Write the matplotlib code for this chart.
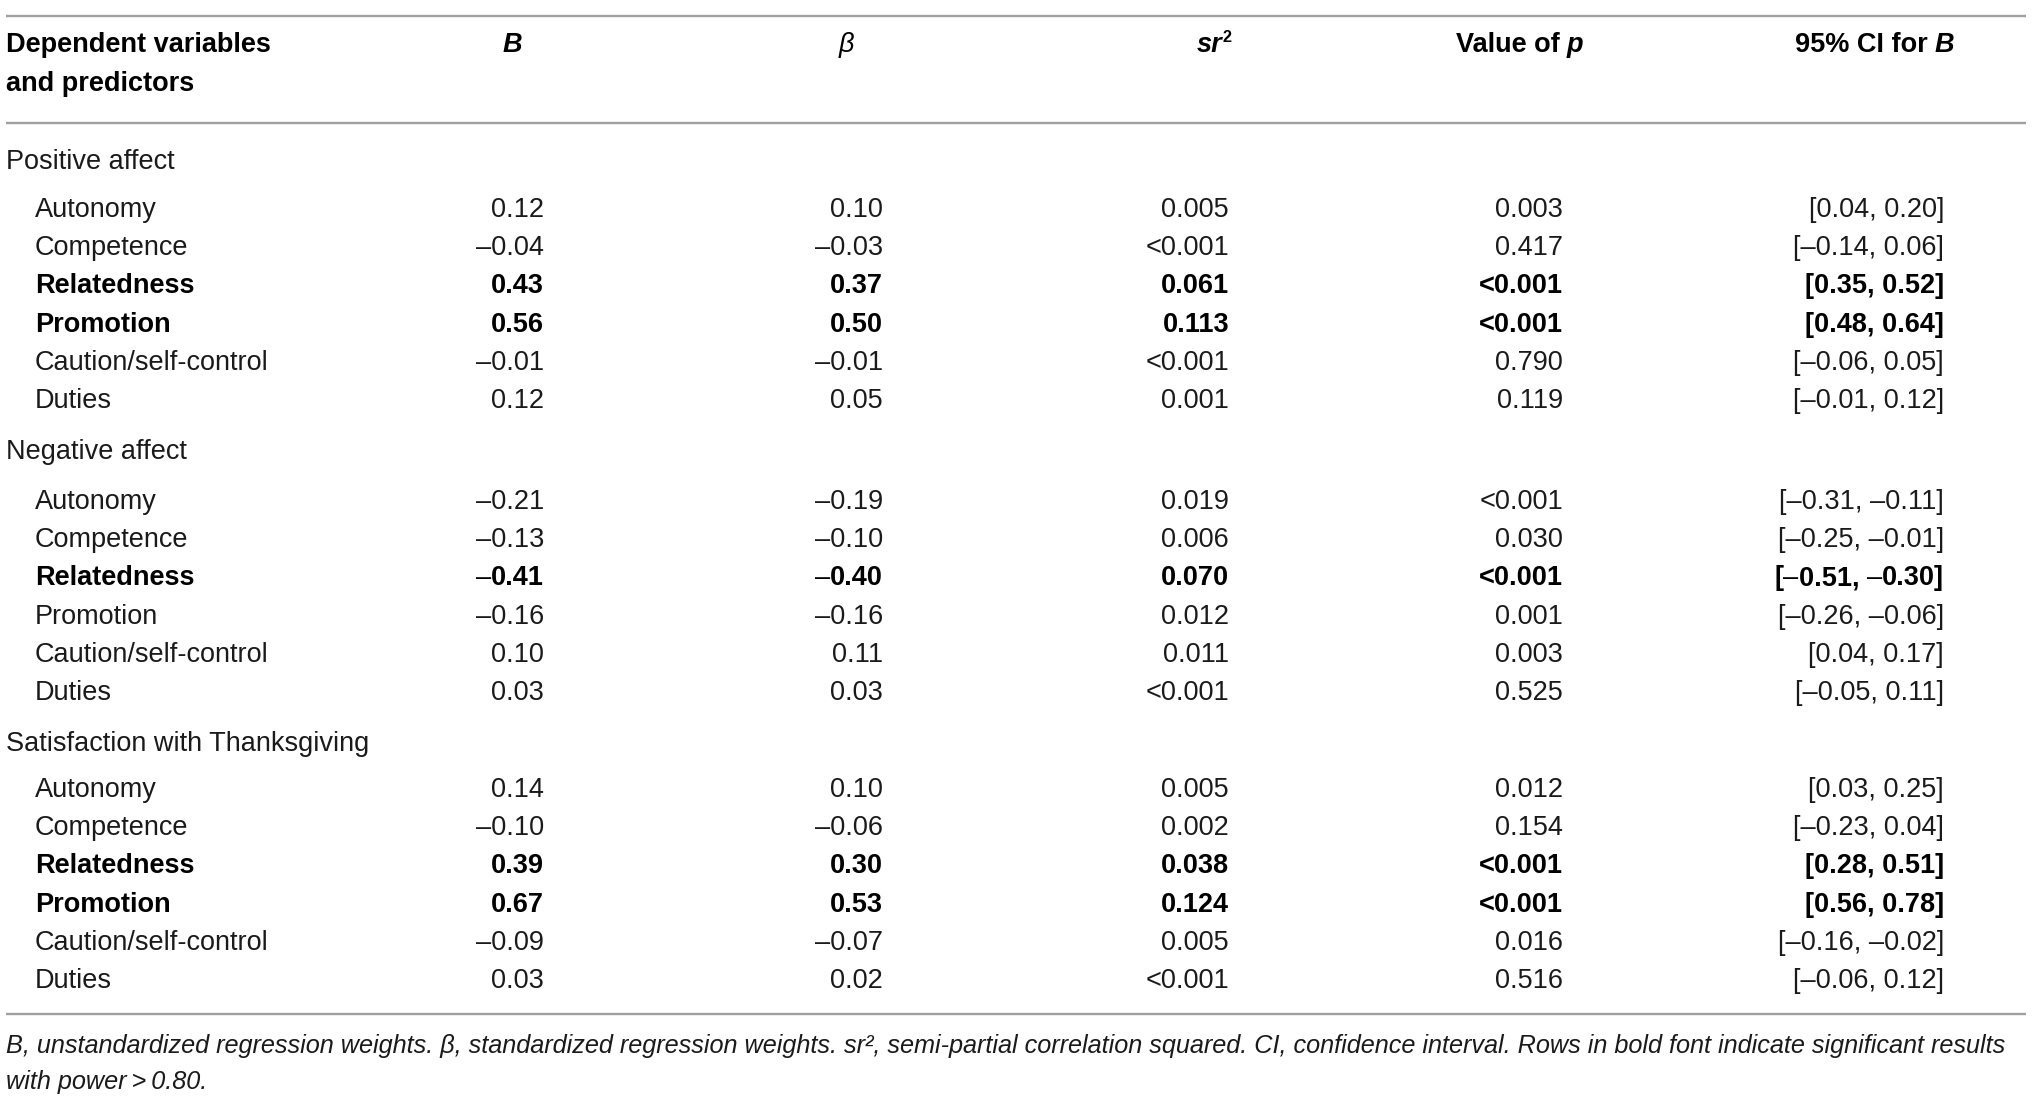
import matplotlib
matplotlib.use('Agg')
import matplotlib.pyplot as plt

FIG_W_PX = 2032
FIG_H_PX = 1101
DPI = 100

FONT = ['Liberation Sans Narrow', 'Liberation Sans', 'DejaVu Sans']
TEXT_COLOR = '#1a1a1a'
LINE_COLOR = '#a0a0a0'
DASH = '\u2013'

# ---- data ----
groups = ['Positive affect', 'Negative affect', 'Satisfaction with Thanksgiving']
predictors = ['Autonomy', 'Competence', 'Relatedness', 'Promotion',
              'Caution/self-control', 'Duties']

pos_B = ['0.12', '\u20130.04', '0.43', '0.56', '\u20130.01', '0.12']
pos_beta = ['0.10', '\u20130.03', '0.37', '0.50', '\u20130.01', '0.05']
pos_sr2 = ['0.005', '<0.001', '0.061', '0.113', '<0.001', '0.001']
pos_p = ['0.003', '0.417', '<0.001', '<0.001', '0.790', '0.119']
pos_ci = ['[0.04, 0.20]', '[\u20130.14, 0.06]', '[0.35, 0.52]', '[0.48, 0.64]',
          '[\u20130.06, 0.05]', '[\u20130.01, 0.12]']
pos_bold = [False, False, True, True, False, False]

neg_B = ['\u20130.21', '\u20130.13', '\u20130.41', '\u20130.16', '0.10', '0.03']
neg_beta = ['\u20130.19', '\u20130.10', '\u20130.40', '\u20130.16', '0.11', '0.03']
neg_sr2 = ['0.019', '0.006', '0.070', '0.012', '0.011', '<0.001']
neg_p = ['<0.001', '0.030', '<0.001', '0.001', '0.003', '0.525']
neg_ci = ['[\u20130.31, \u20130.11]', '[\u20130.25, \u20130.01]', '[\u20130.51, \u20130.30]',
          '[\u20130.26, \u20130.06]', '[0.04, 0.17]', '[\u20130.05, 0.11]']
neg_bold = [False, False, True, False, False, False]

sat_B = ['0.14', '\u20130.10', '0.39', '0.67', '\u20130.09', '0.03']
sat_beta = ['0.10', '\u20130.06', '0.30', '0.53', '\u20130.07', '0.02']
sat_sr2 = ['0.005', '0.002', '0.038', '0.124', '0.005', '<0.001']
sat_p = ['0.012', '0.154', '<0.001', '<0.001', '0.016', '0.516']
sat_ci = ['[0.03, 0.25]', '[\u20130.23, 0.04]', '[0.28, 0.51]', '[0.56, 0.78]',
          '[\u20130.16, \u20130.02]', '[\u20130.06, 0.12]']
sat_bold = [False, False, True, True, False, False]

footnote_lines = [
    'B, unstandardized regression weights. \u03b2, standardized regression weights. '
    'sr\u00b2, semi-partial correlation squared. CI, confidence interval. '
    'Rows in bold font indicate significant results',
    'with power\u2009>\u20090.80.',
]

# ---- layout (pixels) ----
col_right = [544, 883, 1229, 1563, 1944]
head_center = [512, 846, 1214, 1520, 1875]
x_group = 6
x_item = 35
line_x0, line_x1 = 6, 2026
y_top_line = 16
y_head = [45, 84]
y_head_line = 123
y_first_group = 162
row_step = 38.2
gap_before_group = 51
label_to_first = [48, 50, 46]
y_bottom_line = 1014
y_foot = [1046, 1082]

FS = 19.5
FS_FOOT = 18.15

fig = plt.figure(figsize=(FIG_W_PX / DPI, FIG_H_PX / DPI), dpi=DPI)
ax = fig.add_axes([0, 0, 1, 1])
ax.set_xlim(0, FIG_W_PX)
ax.set_ylim(FIG_H_PX, 0)
ax.axis('off')
renderer = fig.canvas.get_renderer()


def draw_runs(x, y, runs, gap_em=0.25):
    # runs: (text, weight, style, space_before, size_scale, y_shift_px); centred at x
    items = []
    for s, weight, style, space, scale, dy in runs:
        t = ax.text(0, y - dy, s, fontsize=FS * scale, fontweight=weight,
                    fontstyle=style, family=FONT, color='black',
                    va='center', ha='left')
        w = t.get_window_extent(renderer).width
        items.append((t, w, space))
    gap = gap_em * FS * DPI / 72
    total = sum(w for _, w, _ in items) + gap * sum(1 for _, _, sp in items if sp)
    cur = x - total / 2
    for t, w, space in items:
        if space:
            cur += gap
        t.set_x(cur)
        cur += w


def cell(x, y, s, bold):
    if not bold:
        ax.text(x, y, s, fontsize=FS, family=FONT, va='center', ha='right',
                color=TEXT_COLOR)
        return
    # bold cell: en dashes stay in regular weight, as in the original
    pieces = []
    buf = ''
    for ch in s:
        if ch == DASH:
            if buf:
                pieces.append((buf, 'bold'))
            pieces.append((ch, 'normal'))
            buf = ''
        else:
            buf += ch
    if buf:
        pieces.append((buf, 'bold'))
    cur = x
    for txt, w in reversed(pieces):
        t = ax.text(cur, y, txt, fontsize=FS, fontweight=w, family=FONT,
                    va='center', ha='right', color='black')
        cur -= t.get_window_extent(renderer).width


# rules
for yl in (y_top_line, y_head_line, y_bottom_line):
    ax.plot([line_x0, line_x1], [yl, yl], color=LINE_COLOR, lw=1.7,
            solid_capstyle='butt')

# header
ax.text(x_group, y_head[0], 'Dependent variables', fontsize=FS, fontweight='bold',
        family=FONT, va='center', ha='left', color='black')
ax.text(x_group, y_head[1], 'and predictors', fontsize=FS, fontweight='bold',
        family=FONT, va='center', ha='left', color='black')
draw_runs(head_center[0], y_head[0], [('B', 'bold', 'italic', False, 1, 0)])
draw_runs(head_center[1], y_head[0], [('\u03b2', 'normal', 'italic', False, 1, 0)])
draw_runs(head_center[2], y_head[0], [('sr', 'bold', 'italic', False, 1, 0),
                                      ('2', 'bold', 'normal', False, 0.6, 7)])
draw_runs(head_center[3], y_head[0], [('Value of', 'bold', 'normal', False, 1, 0),
                                      ('p', 'bold', 'italic', True, 1, 0)])
draw_runs(head_center[4], y_head[0], [('95% CI for', 'bold', 'normal', False, 1, 0),
                                      ('B', 'bold', 'italic', True, 1, 0)])

# body
blocks = [
    (groups[0], [pos_B, pos_beta, pos_sr2, pos_p, pos_ci], pos_bold),
    (groups[1], [neg_B, neg_beta, neg_sr2, neg_p, neg_ci], neg_bold),
    (groups[2], [sat_B, sat_beta, sat_sr2, sat_p, sat_ci], sat_bold),
]
y = y_first_group
for gi, (gname, cols, bold) in enumerate(blocks):
    if gi > 0:
        y += gap_before_group - row_step
    ax.text(x_group, y, gname, fontsize=FS, family=FONT, va='center', ha='left',
            color=TEXT_COLOR)
    y += label_to_first[gi]
    for ri, name in enumerate(predictors):
        w = 'bold' if bold[ri] else 'normal'
        c = 'black' if bold[ri] else TEXT_COLOR
        ax.text(x_item, y, name, fontsize=FS, fontweight=w, family=FONT,
                va='center', ha='left', color=c)
        for ci, col in enumerate(cols):
            cell(col_right[ci], y, col[ri], bold[ri])
        y += row_step

# footnote
for yf, line in zip(y_foot, footnote_lines):
    ax.text(x_group, yf, line, fontsize=FS_FOOT, fontstyle='italic',
            family=FONT, va='center', ha='left', color=TEXT_COLOR)

fig.savefig('out.png', dpi=DPI)
